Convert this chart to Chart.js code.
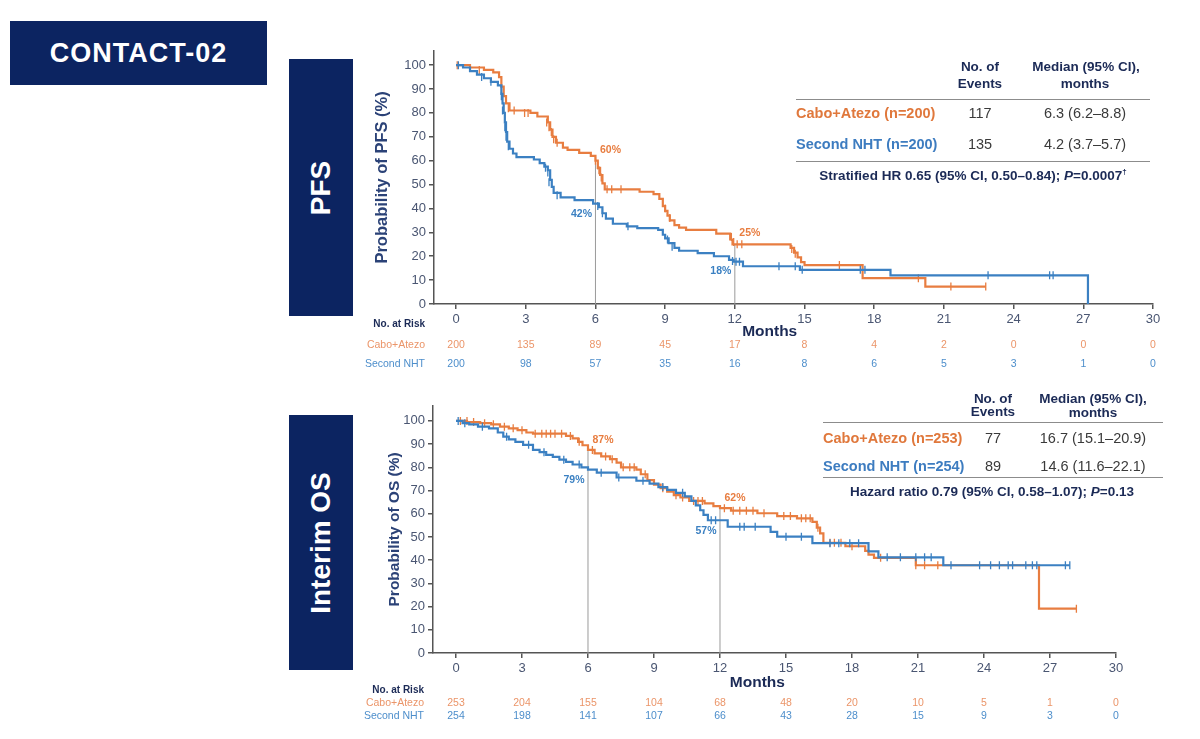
<!DOCTYPE html>
<html>
<head>
<meta charset="utf-8">
<script src="https://cdn.jsdelivr.net/npm/chart.js@4.4.0/dist/chart.umd.min.js"></script>
<style>
body{margin:0;width:1200px;height:739px;background:#fff;position:relative;overflow:hidden;font-family:"Liberation Sans",Arial,sans-serif;}
.box{position:absolute;background:#0c2461;color:#fff;font-weight:bold;display:flex;align-items:center;justify-content:center;}
.vt{transform:rotate(-90deg);white-space:nowrap;font-size:28px;}
.t{position:absolute;white-space:nowrap;line-height:1;}
.c{transform:translateX(-50%);}
.hd{font-weight:bold;font-size:13.5px;color:#1b2a56;}
.num{font-size:14.5px;color:#3a3a3a;}
.arm{font-weight:bold;font-size:14.5px;}
.hr{font-weight:bold;font-size:13.5px;color:#1b2a56;}
.rule{position:absolute;height:0;border-top:1.5px solid #8c8c8c;}
canvas{position:absolute;}
</style>
</head>
<body>
<div class="box" style="left:10px;top:21px;width:257px;height:64px;font-size:27px;letter-spacing:1px;">CONTACT-02</div>
<div class="box" style="left:289px;top:59px;width:64px;height:257px;"><span class="vt">PFS</span></div>
<div class="box" style="left:289px;top:415px;width:64px;height:255px;"><span class="vt">Interim OS</span></div>

<canvas id="pfsChart" width="835" height="340" style="left:340px;top:40px;"></canvas>
<canvas id="osChart" width="835" height="344" style="left:340px;top:395px;"></canvas>

<!-- PFS summary -->
<div class="t c hd" style="left:980px;top:60px;">No. of</div>
<div class="t c hd" style="left:980px;top:77px;">Events</div>
<div class="t c hd" style="left:1086px;top:60px;">Median (95% CI),</div>
<div class="t c hd" style="left:1085px;top:77px;">months</div>
<div class="rule" style="left:796px;top:99px;width:354px;"></div>
<div class="t arm" style="left:796px;top:106px;color:#e0783c;">Cabo+Atezo (n=200)</div>
<div class="t c num" style="left:980px;top:106px;">117</div>
<div class="t c num" style="left:1085px;top:106px;">6.3 (6.2–8.8)</div>
<div class="t arm" style="left:796px;top:137px;color:#3d7cc0;">Second NHT (n=200)</div>
<div class="t c num" style="left:980px;top:137px;">135</div>
<div class="t c num" style="left:1085px;top:137px;">4.2 (3.7–5.7)</div>
<div class="rule" style="left:796px;top:161px;width:354px;"></div>
<div class="t c hr" style="left:973px;top:168px;">Stratified HR 0.65 (95% CI, 0.50–0.84); <i>P</i>=0.0007<sup style="font-size:8px;">†</sup></div>

<!-- OS summary -->
<div class="t c hd" style="left:993px;top:392px;">No. of</div>
<div class="t c hd" style="left:993px;top:405px;">Events</div>
<div class="t c hd" style="left:1093px;top:392px;">Median (95% CI),</div>
<div class="t c hd" style="left:1093px;top:406px;">months</div>
<div class="rule" style="left:823px;top:422px;width:340px;"></div>
<div class="t arm" style="left:823px;top:431px;color:#e0783c;">Cabo+Atezo (n=253)</div>
<div class="t c num" style="left:993px;top:431px;">77</div>
<div class="t c num" style="left:1093px;top:431px;">16.7 (15.1–20.9)</div>
<div class="t arm" style="left:823px;top:459px;color:#3d7cc0;">Second NHT (n=254)</div>
<div class="t c num" style="left:993px;top:459px;">89</div>
<div class="t c num" style="left:1093px;top:459px;">14.6 (11.6–22.1)</div>
<div class="rule" style="left:823px;top:477px;width:340px;"></div>
<div class="t c hr" style="left:992px;top:485px;">Hazard ratio 0.79 (95% CI, 0.58–1.07); <i>P</i>=0.13</div>

<script>
// tick values and risk tables
const xTicks = [0, 3, 6, 9, 12, 15, 18, 21, 24, 27, 30];
const yTicks = [0, 10, 20, 30, 40, 50, 60, 70, 80, 90, 100];
const pfsRiskCabo = [200, 135, 89, 45, 17, 8, 4, 2, 0, 0, 0];
const pfsRiskNht = [200, 98, 57, 35, 16, 8, 6, 5, 3, 1, 0];
const osRiskCabo = [253, 204, 155, 104, 68, 48, 20, 10, 5, 1, 0];
const osRiskNht = [254, 198, 141, 107, 66, 43, 28, 15, 9, 3, 0];

// milestone rates (%)
const pfsMilestones = [{ month: 6, cabo: 60, nht: 42 }, { month: 12, cabo: 25, nht: 18 }];
const osMilestones = [{ month: 6, cabo: 87, nht: 79 }, { month: 12, cabo: 62, nht: 57 }];

// KM steps: [month, survival %]
const pfsCabo = [[0,100],[0.6,99],[1.2,98],[1.6,97],[1.85,95],[1.95,91],[2.05,87],[2.15,84],[2.3,81],[3.2,80],[3.5,78.5],[3.95,76],[4.05,73],[4.15,70],[4.3,67.5],[4.6,65.5],[4.8,64.5],[5.3,63.3],[5.8,62],[6.0,60],[6.1,57],[6.2,54],[6.3,50.5],[6.4,48],[7.9,47],[8.5,46],[8.75,44],[8.9,41],[9.0,39],[9.1,37],[9.2,35],[9.4,33],[9.6,32],[9.9,31],[11.2,29.5],[11.8,27],[11.9,25],[14.4,23.5],[14.55,21.5],[14.7,19.5],[14.85,17.5],[15.0,16.3],[17.5,10.8],[20.2,7.3],[22.8,7.3]];
const pfsNht = [[0,100],[0.3,99],[0.6,97.5],[0.9,96],[1.2,94.5],[1.5,93],[1.8,91.5],[1.95,88],[2.0,84],[2.05,80],[2.1,76],[2.15,72],[2.2,68],[2.3,65],[2.45,63],[2.6,61.5],[3.35,60.5],[3.6,59],[3.8,57.5],[3.95,56],[4.05,52],[4.12,49],[4.2,46.5],[4.5,44.6],[5.1,43.5],[5.9,42],[6.15,40.5],[6.3,38],[6.45,35.7],[6.75,33.6],[7.35,32.5],[7.8,31.8],[8.7,31],[8.9,29],[9.0,27.5],[9.15,25.5],[9.4,23.5],[9.6,22.3],[10.4,21.3],[11.1,20],[11.75,18.5],[11.95,17.7],[12.35,15.8],[14.8,14.3],[18.7,12],[27.2,12],[27.2,0]];
const osCabo = [[0,100],[0.5,99.5],[1.1,99],[1.6,98.5],[2.0,97.5],[2.4,96.8],[2.8,96],[3.2,95],[3.5,94.5],[5.0,93.5],[5.3,92.5],[5.55,91],[5.75,89.5],[6.0,87.5],[6.3,86],[6.6,84.7],[7.0,83.5],[7.3,82],[7.5,80],[8.2,79],[8.4,77],[8.7,74.5],[9.0,72.5],[9.3,71],[9.6,69.5],[9.9,68],[10.2,67],[10.6,65.5],[11.3,64.5],[11.7,63.3],[12.0,62.4],[12.5,61.3],[13.7,60.2],[14.6,59],[15.5,58],[16.2,56.5],[16.4,54],[16.55,51.5],[16.7,47.5],[17.7,46],[18.6,44],[18.75,42.4],[19.0,41],[20.9,37.8],[26.5,19.1],[28.2,19.1]];
const osNht = [[0,100],[0.3,99],[0.6,98.5],[1.0,97.5],[1.5,96.8],[1.9,95],[2.15,93.2],[2.4,92],[2.7,91],[3.05,89.7],[3.5,87.5],[3.8,86.5],[4.1,85.4],[4.4,84.5],[4.7,83.3],[5.0,82.3],[5.3,81.2],[5.7,80],[6.0,79],[6.4,77.7],[7.3,75.6],[8.2,74.2],[8.8,73],[9.2,71.5],[9.6,70.3],[10.0,69],[10.4,67.5],[10.7,65.5],[10.9,63.6],[11.1,61.5],[11.25,59.5],[11.45,57.2],[12.35,54.4],[14.3,52.2],[14.6,50.1],[16.2,47.3],[18.75,43.8],[19.2,41.2],[22.15,37.8],[27.9,37.8]];

// censored observations: [month, survival %]
const pfsCaboCens = [[0.05,100],[1.0,98],[2.25,82],[2.5,81],[2.95,80],[3.1,80],[3.9,76],[4.0,74],[4.1,72],[4.2,69],[4.35,67.5],[6.0,60],[6.1,58],[6.15,56],[6.25,53],[6.5,48],[6.7,48],[7.1,48],[9.0,40],[9.2,36],[11.85,28],[11.95,26],[12.1,25],[12.3,25],[14.45,23],[14.6,21],[16.5,16.3],[19.9,10.8],[21.3,7.3],[22.8,7.3]];
const pfsNhtCens = [[0.1,100],[1.1,95],[1.5,93],[1.95,87],[2.0,81],[2.1,74],[2.15,70],[2.25,66],[3.85,57],[3.95,55],[4.0,51],[4.35,45.5],[6.1,41],[6.3,38],[7.4,32.5],[9.1,27],[9.3,24],[11.9,18],[12.05,17.7],[12.2,17.7],[13.9,15.8],[14.6,15.8],[14.9,14.3],[17.4,14.3],[17.6,14.3],[22.9,12],[25.55,12],[25.7,12]];
const osCaboCens = [[0.2,100],[0.5,100],[0.8,99.5],[1.3,99],[1.7,98.5],[2.2,97.5],[2.6,96.8],[3.0,96],[3.6,94.5],[3.9,94.5],[4.1,94.5],[4.3,94.5],[4.5,94.5],[4.8,94.5],[5.2,93.5],[5.6,91],[6.2,87.5],[6.8,84.7],[7.1,83.5],[7.6,80],[7.9,80],[8.1,80],[8.6,77],[9.4,71],[10.0,68],[10.3,67],[10.8,65.5],[11.0,65.5],[11.2,65.5],[12.2,62.4],[12.6,61.3],[12.9,61.3],[13.2,61.3],[13.5,61.3],[14.0,60.2],[14.9,59],[15.2,59],[15.7,58],[15.9,58],[16.1,58],[16.45,54],[17.0,47.5],[17.2,47.5],[17.5,47.5],[18.0,46],[19.3,41],[20.9,37.8],[21.3,37.8],[21.9,37.8],[28.2,19.1]];
const osNhtCens = [[0.1,100],[0.4,99],[1.2,97.5],[2.3,93.2],[3.3,89.7],[4.0,86.5],[4.9,83.3],[5.6,81.2],[6.6,77.7],[7.4,75.6],[8.5,74.2],[9.4,71.5],[10.3,69],[11.6,57.2],[11.8,57.2],[12.9,54.4],[13.1,54.4],[13.6,54.4],[15.0,50.1],[15.7,50.1],[17.0,47.3],[17.4,47.3],[17.9,47.3],[18.3,47.3],[19.6,41.2],[20.2,41.2],[20.9,41.2],[21.3,41.2],[21.6,41.2],[22.5,37.8],[23.8,37.8],[24.3,37.8],[24.7,37.8],[25.1,37.8],[25.3,37.8],[25.9,37.8],[26.2,37.8],[26.4,37.8],[27.7,37.8],[27.9,37.8]];

const ORANGE = '#e87d40';
const BLUE = '#3b80c2';
const ORANGE_TXT = '#eb9569';
const BLUE_TXT = '#4d8ecb';
const NAVY = '#1b2a56';
const AXIS = '#555555';
const TICK_TXT = '#4a5672';
const FONT = '"Liberation Sans", Arial, sans-serif';

const toXY = arr => arr.map(p => ({ x: p[0], y: p[1] }));

// percentage labels, "Months" title and the number-at-risk table
const kmExtras = {
  id: 'kmExtras',
  afterDraw(chart, args, opts) {
    const { ctx, chartArea, scales: { x, y } } = chart;
    ctx.save();
    ctx.textAlign = 'center';
    ctx.textBaseline = 'middle';
    ctx.font = 'bold 10.5px ' + FONT;
    opts.milestones.forEach(m => {
      ctx.fillStyle = ORANGE;
      ctx.fillText(m.cabo + '%', x.getPixelForValue(m.month) + 15, y.getPixelForValue(m.cabo) - 11);
      ctx.fillStyle = BLUE;
      ctx.fillText(m.nht + '%', x.getPixelForValue(m.month) - 14, y.getPixelForValue(m.nht) + 10);
    });

    ctx.fillStyle = NAVY;
    ctx.font = 'bold 15.5px ' + FONT;
    ctx.fillText('Months', x.getPixelForValue(opts.monthsAt), chartArea.bottom + opts.monthsDy);

    const lx = chartArea.left - 9;
    ctx.textAlign = 'right';
    ctx.font = 'bold 10px ' + FONT;
    ctx.fillText('No. at Risk', lx, chartArea.bottom + opts.rows[0]);
    ctx.font = '10.5px ' + FONT;
    ctx.fillStyle = ORANGE_TXT;
    ctx.fillText('Cabo+Atezo', lx, chartArea.bottom + opts.rows[1]);
    ctx.fillStyle = BLUE_TXT;
    ctx.fillText('Second NHT', lx, chartArea.bottom + opts.rows[2]);
    ctx.textAlign = 'center';
    xTicks.forEach((t, i) => {
      const px = x.getPixelForValue(t);
      ctx.fillStyle = ORANGE_TXT;
      ctx.fillText(String(opts.riskCabo[i]), px, chartArea.bottom + opts.rows[1]);
      ctx.fillStyle = BLUE_TXT;
      ctx.fillText(String(opts.riskNht[i]), px, chartArea.bottom + opts.rows[2]);
    });
    ctx.restore();
  }
};

function makeKM(id, o) {
  const refLines = o.milestones.map(m => ({
    type: 'line',
    data: [{ x: m.month, y: 0 }, { x: m.month, y: Math.max(m.cabo, m.nht) }],
    borderColor: '#9a9a9a',
    borderWidth: 1,
    pointRadius: 0
  }));
  const cens = (d, c) => ({
    type: 'scatter',
    data: toXY(d),
    pointStyle: 'line',
    rotation: 90,
    radius: 4,
    borderColor: c,
    borderWidth: 1.3
  });
  const curve = (d, c) => ({
    type: 'line',
    data: toXY(d),
    stepped: true,
    borderColor: c,
    borderWidth: 2.2,
    pointRadius: 0,
    fill: false
  });

  return new Chart(document.getElementById(id), {
    type: 'scatter',
    data: {
      datasets: [
        cens(o.nhtCens, BLUE),
        curve(o.nht, BLUE),
        cens(o.caboCens, ORANGE),
        curve(o.cabo, ORANGE),
        ...refLines
      ]
    },
    plugins: [kmExtras],
    options: {
      responsive: false,
      animation: false,
      devicePixelRatio: 1,
      layout: { padding: o.padding },
      plugins: {
        legend: { display: false },
        tooltip: { enabled: false },
        kmExtras: {
          milestones: o.milestones,
          riskCabo: o.riskCabo,
          riskNht: o.riskNht,
          monthsAt: o.monthsAt,
          monthsDy: o.monthsDy,
          rows: o.rows
        }
      },
      scales: {
        x: {
          type: 'linear',
          min: o.xMin,
          max: 30,
          afterBuildTicks: s => { s.ticks = xTicks.map(v => ({ value: v })); },
          afterFit: s => { s.height = 30; },
          ticks: { color: TICK_TXT, font: { size: 13, family: FONT }, padding: 3, maxRotation: 0, autoSkip: false },
          grid: { drawOnChartArea: false, drawTicks: true, tickLength: 5, color: AXIS, lineWidth: 1.5 },
          border: { color: AXIS, width: 1.5 }
        },
        y: {
          min: 0,
          max: o.yMax,
          afterBuildTicks: s => { s.ticks = yTicks.map(v => ({ value: v })); },
          afterFit: s => { s.width = o.yWidth; },
          ticks: { color: TICK_TXT, font: { size: 13, family: FONT }, padding: 3 },
          grid: { drawOnChartArea: false, drawTicks: true, tickLength: 5, color: AXIS, lineWidth: 1.5 },
          border: { color: AXIS, width: 1.5 },
          title: {
            display: true,
            text: o.yTitle,
            color: '#2b4277',
            font: { size: o.yTitleSize, weight: 'bold', family: FONT },
            padding: { top: 4, bottom: 4 }
          }
        }
      }
    }
  });
}

window.addEventListener('load', function() {
  makeKM('pfsChart', {
    cabo: pfsCabo, nht: pfsNht, caboCens: pfsCaboCens, nhtCens: pfsNhtCens,
    milestones: pfsMilestones, riskCabo: pfsRiskCabo, riskNht: pfsRiskNht,
    yTitle: 'Probability of PFS (%)', yTitleSize: 16.5,
    xMin: -0.95, yMax: 106, yWidth: 65,
    padding: { top: 8, right: 22, bottom: 46, left: 29 },
    monthsAt: 13.5, monthsDy: 28, rows: [20, 41, 60]
  });
  makeKM('osChart', {
    cabo: osCabo, nht: osNht, caboCens: osCaboCens, nhtCens: osNhtCens,
    milestones: osMilestones, riskCabo: osRiskCabo, riskNht: osRiskNht,
    yTitle: 'Probability of OS (%)', yTitleSize: 15.5,
    xMin: -1.045, yMax: 106.5, yWidth: 52,
    padding: { top: 7, right: 59, bottom: 56, left: 41 },
    monthsAt: 13.7, monthsDy: 30, rows: [37, 50, 63]
  });
});
</script>
</body>
</html>
